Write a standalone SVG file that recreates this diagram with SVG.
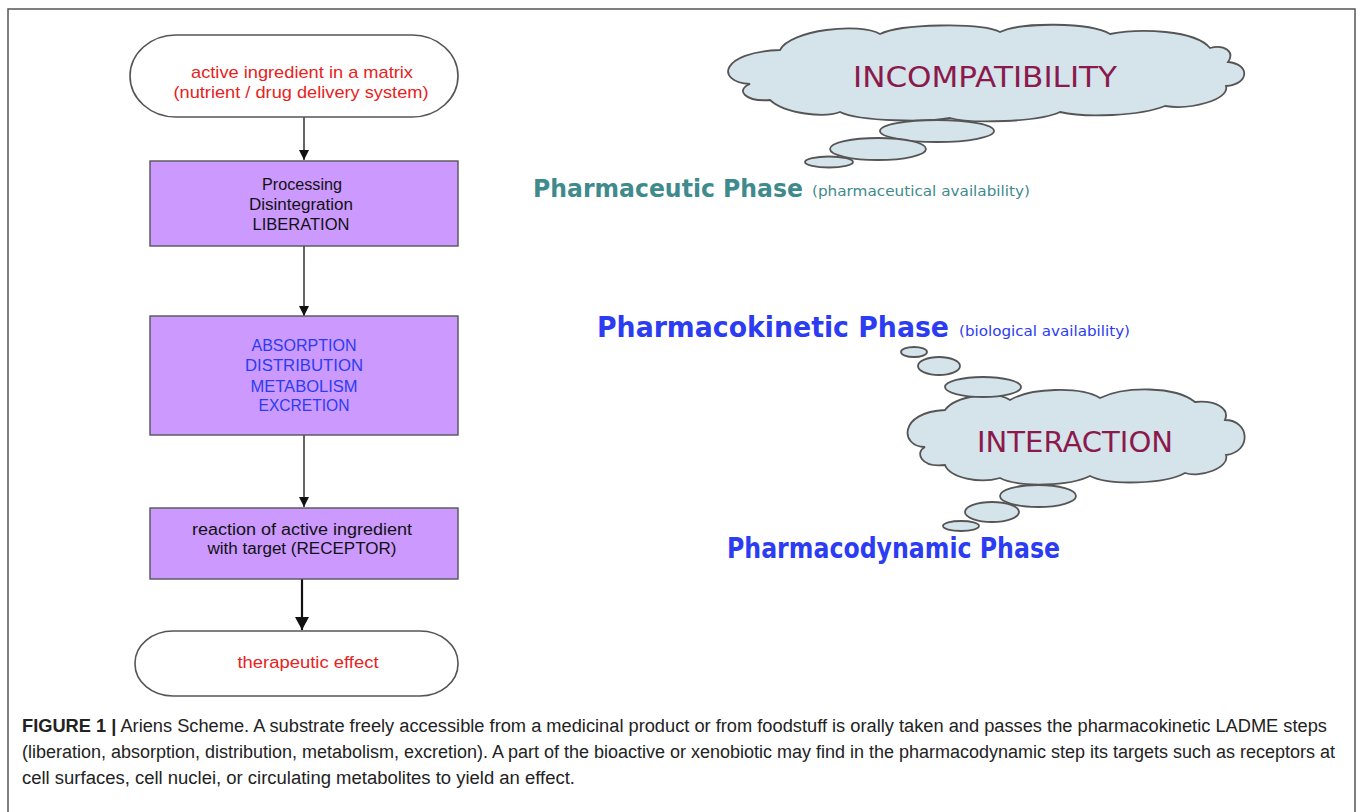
<svg xmlns="http://www.w3.org/2000/svg" width="1358" height="812" viewBox="0 0 1358 812">
<style>
.term{fill:#ffffff;stroke:#555555;stroke-width:1.6}
.box{fill:#cc99ff;stroke:#555555;stroke-width:1.4}
.lbl{font-family:"Liberation Sans",Arial,sans-serif;font-size:16px;text-anchor:middle}
.red{fill:#e8221c}
.blk{fill:#111111}
.blu{fill:#2b3cf2}
.cloud{fill:#d5e3eb;stroke:#555555;stroke-width:1.8}
.ctext{font-family:"DejaVu Sans",Verdana,sans-serif;font-size:28px;fill:#8a1a4c;text-anchor:middle}
.phase{font-family:"DejaVu Sans",Verdana,sans-serif;font-weight:bold;font-size:28px}
.sub{font-family:"DejaVu Sans",Verdana,sans-serif;font-size:14px}
.teal{fill:#3f8a8d}
.pblue{fill:#2b3cf2}
.cap{font-family:"Liberation Sans",Arial,sans-serif;font-size:18px;fill:#222222}
.conn{stroke:#111111;stroke-width:1.3;fill:none}
.connb{stroke:#111111;stroke-width:2.2;fill:none}
</style>
<defs>
<marker id="ah" markerUnits="userSpaceOnUse" markerWidth="10" markerHeight="11" refX="10" refY="5" orient="auto">
<path d="M0,0 L10,5 L0,10 z" fill="#111111"/>
</marker>
<marker id="ahb" markerUnits="userSpaceOnUse" markerWidth="14" markerHeight="14" refX="13" refY="7" orient="auto">
<path d="M0,0 L13,7 L0,14 z" fill="#111111"/>
</marker>
</defs>
<rect x="8" y="9" width="1347" height="830" fill="none" stroke="#555555" stroke-width="1.5"/>

<g id="connectors">
<line class="conn" x1="304" y1="117" x2="304" y2="160" marker-end="url(#ah)"/>
<line class="conn" x1="304" y1="246" x2="304" y2="316" marker-end="url(#ah)"/>
<line class="conn" x1="304" y1="435" x2="304" y2="507" marker-end="url(#ah)"/>
<line class="connb" x1="302" y1="579" x2="302" y2="630" marker-end="url(#ahb)"/>
</g>

<g id="start">
<rect class="term" x="130" y="35" width="328" height="82" rx="46" ry="41"/>
<text class="lbl red" x="302" y="78" style="font-size:17px" textLength="222" lengthAdjust="spacingAndGlyphs">active ingredient in a matrix</text>
<text class="lbl red" x="301" y="98" style="font-size:17px" textLength="255" lengthAdjust="spacingAndGlyphs">(nutrient / drug delivery system)</text>
</g>

<g id="liberation">
<rect class="box" x="150" y="161" width="308" height="85"/>
<text class="lbl blk" x="302" y="190" textLength="80" lengthAdjust="spacingAndGlyphs">Processing</text>
<text class="lbl blk" x="301" y="210" textLength="104" lengthAdjust="spacingAndGlyphs">Disintegration</text>
<text class="lbl blk" x="301" y="230" textLength="97" lengthAdjust="spacingAndGlyphs">LIBERATION</text>
</g>

<g id="adme">
<rect class="box" x="150" y="316" width="308" height="119"/>
<text class="lbl blu" x="304" y="351" textLength="105" lengthAdjust="spacingAndGlyphs">ABSORPTION</text>
<text class="lbl blu" x="304" y="371" textLength="118" lengthAdjust="spacingAndGlyphs">DISTRIBUTION</text>
<text class="lbl blu" x="304" y="392" textLength="107" lengthAdjust="spacingAndGlyphs">METABOLISM</text>
<text class="lbl blu" x="304" y="411" textLength="91" lengthAdjust="spacingAndGlyphs">EXCRETION</text>
</g>

<g id="reaction">
<rect class="box" x="150" y="508" width="308" height="71"/>
<text class="lbl blk" x="302" y="535" textLength="220" lengthAdjust="spacingAndGlyphs">reaction of active ingredient</text>
<text class="lbl blk" x="302" y="554" textLength="189" lengthAdjust="spacingAndGlyphs">with target (RECEPTOR)</text>
</g>

<g id="effect">
<rect class="term" x="135" y="631" width="323" height="65" rx="38" ry="32"/>
<text class="lbl red" x="308" y="668" textLength="141" lengthAdjust="spacingAndGlyphs">therapeutic effect</text>
</g>

<g id="incompatibility">
<path class="cloud" d="M750,84 C715,82 720,52 780,50 C790,30 860,22 880,34 C900,24 980,22 1000,32 C1020,22 1090,22 1110,34 C1140,28 1195,30 1210,48 C1225,44 1235,52 1228,62 C1250,64 1250,84 1226,86 C1230,100 1190,110 1165,106 C1140,116 1085,118 1060,112 C1040,122 970,124 950,118 C930,122 860,122 840,112 C825,118 785,114 770,100 C745,102 735,90 750,84 Z"/>
<ellipse class="cloud" cx="937" cy="131" rx="57" ry="11"/>
<ellipse class="cloud" cx="878" cy="149" rx="48" ry="11"/>
<ellipse class="cloud" cx="829" cy="162" rx="24" ry="5.5"/>
<text class="ctext" x="985" y="87" textLength="264" lengthAdjust="spacingAndGlyphs">INCOMPATIBILITY</text>
</g>

<g id="pharmaceutic">
<text class="phase teal" x="533" y="197" style="font-size:25px" textLength="270" lengthAdjust="spacingAndGlyphs">Pharmaceutic Phase</text>
<text class="sub teal" x="812" y="196" textLength="218" lengthAdjust="spacingAndGlyphs">(pharmaceutical availability)</text>
</g>

<g id="pharmacokinetic">
<text class="phase pblue" x="597" y="337" textLength="352" lengthAdjust="spacingAndGlyphs">Pharmacokinetic Phase</text>
<text class="sub pblue" x="959" y="336" textLength="171" lengthAdjust="spacingAndGlyphs">(biological availability)</text>
</g>

<g id="interaction">
<ellipse class="cloud" cx="914" cy="352" rx="13" ry="5"/>
<ellipse class="cloud" cx="939" cy="366" rx="21" ry="9"/>
<path class="cloud" d="M925,447 C900,447 898,412 945,410 C955,396 995,390 1010,400 C1030,388 1080,386 1100,398 C1125,386 1175,386 1195,402 C1215,400 1230,408 1225,420 C1250,420 1252,452 1226,455 C1230,468 1200,478 1185,473 C1165,484 1110,486 1090,476 C1070,486 1020,488 1000,478 C980,484 950,478 945,465 C920,468 915,452 925,447 Z"/>
<ellipse class="cloud" cx="983" cy="387" rx="38" ry="10"/>
<ellipse class="cloud" cx="1038" cy="496" rx="38" ry="11"/>
<ellipse class="cloud" cx="992" cy="512" rx="27" ry="10"/>
<ellipse class="cloud" cx="961" cy="526" rx="18" ry="5"/>
<text class="ctext" x="1075" y="452" textLength="196" lengthAdjust="spacingAndGlyphs">INTERACTION</text>
</g>

<g id="pharmacodynamic">
<text class="phase pblue" x="727" y="558" textLength="333" lengthAdjust="spacingAndGlyphs">Pharmacodynamic Phase</text>
</g>

<g id="caption">
<text class="cap" x="22" y="732" textLength="1305" lengthAdjust="spacingAndGlyphs"><tspan font-weight="bold">FIGURE 1 |</tspan> Ariens Scheme. A substrate freely accessible from a medicinal product or from foodstuff is orally taken and passes the pharmacokinetic LADME steps</text>
<text class="cap" x="22" y="758" textLength="1313" lengthAdjust="spacingAndGlyphs">(liberation, absorption, distribution, metabolism, excretion). A part of the bioactive or xenobiotic may find in the pharmacodynamic step its targets such as receptors at</text>
<text class="cap" x="22" y="784" textLength="553" lengthAdjust="spacingAndGlyphs">cell surfaces, cell nuclei, or circulating metabolites to yield an effect.</text>
</g>
</svg>
